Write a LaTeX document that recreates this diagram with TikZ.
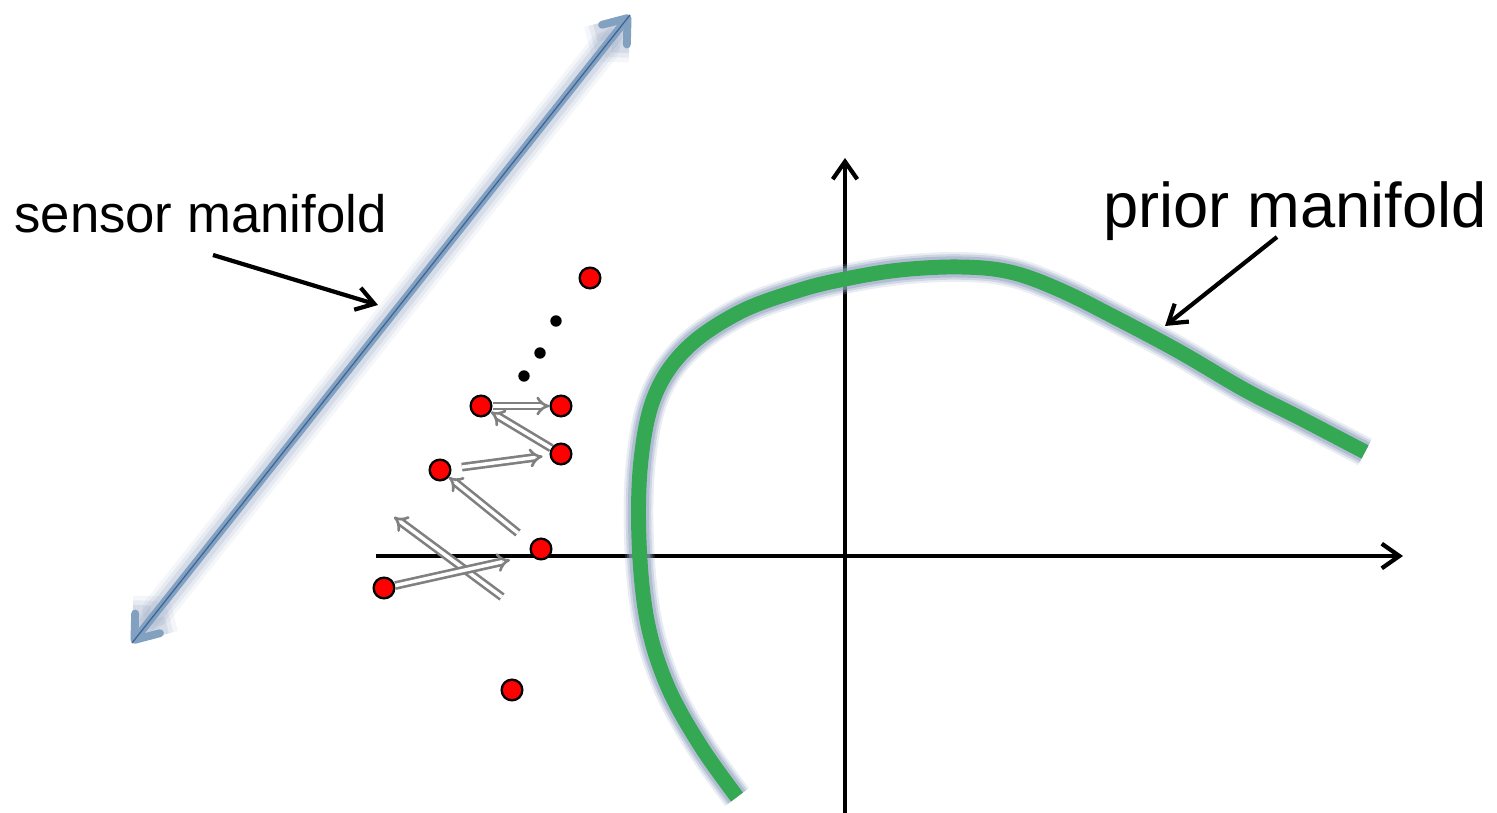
\documentclass[tikz,border=0pt]{standalone}
\usepackage{fontspec}
\setmainfont{Liberation Sans}
\usetikzlibrary{arrows.meta}
\definecolor{sblue}{RGB}{60,100,150}
\definecolor{lblue}{RGB}{130,160,192}
\definecolor{glowc}{RGB}{150,165,195}
\definecolor{pgreen}{RGB}{52,168,83}
\definecolor{garrow}{RGB}{128,128,128}
\tikzset{
  reddot/.style={circle,fill=red,draw=black,line width=1.3pt,minimum size=11.8pt,inner sep=0pt},
  blackdot/.style={circle,fill=black,minimum size=6.5pt,inner sep=0pt},
  axis/.style={line width=2.4pt,-{Straight Barb[length=10pt,width=14pt,line width=2.4pt]}},
  pointer/.style={line width=2.4pt,-{Straight Barb[length=10pt,width=13pt,line width=2.4pt]}},
  darrow/.style={draw=garrow,double=white,double distance=2pt,line width=1.5pt,-{Implies[length=11pt]}},
  lbl/.style={inner sep=0pt,anchor=base west}
}
\begin{document}
\begin{tikzpicture}[x=0.02cm,y=-0.02cm]
\useasboundingbox (0,0) rectangle (1497,813);
% sensor manifold
\coordinate (s1) at (132,643);
\coordinate (s2) at (630,15);
\foreach \w/\o in {18/0.10,14/0.15,10/0.22}{
  \draw[glowc,line width=\w pt,opacity=\o,line cap=round,{Straight Barb[length=12pt,width=18pt,line width=\w pt]}-{Straight Barb[length=12pt,width=18pt,line width=\w pt]}] (s1) -- (s2);
}
\draw[lblue,line width=4.5pt,line cap=round,{Straight Barb[length=12pt,width=18pt,line width=4.5pt,round]}-{Straight Barb[length=12pt,width=18pt,line width=4.5pt,round]}] (s1) -- (s2);
\draw[sblue,line width=0.7pt] (s1) -- (s2);
\node[lbl,font=\fontsize{30}{36}\selectfont] (sl) at (14,233) {sensor manifold};
\coordinate (sa1) at (213,255);
\coordinate (sa2) at (378,305);
\draw[pointer] (sa1) -- (sa2);
% axes
\coordinate (xa) at (376,556);
\coordinate (xb) at (1403,556);
\coordinate (ya) at (845,813);
\coordinate (yb) at (845,158);
\draw[axis] (xa) -- (xb);
\draw[axis] (ya) -- (yb);
% prior manifold
\def\curve{plot[smooth,tension=0.6] coordinates {(737,797) (700,745) (667,685) (647,620) (639,540) (641,460) (655,395) (687,348) (740,312) (800,290) (845,279) (900,270) (960,267) (1010,272) (1060,290) (1120,320) (1180,352) (1245,390) (1300,418) (1365,452)}}
\foreach \w/\o in {17/0.2,14.5/0.32,12/0.5}{
  \draw[glowc,line width=\w pt,opacity=\o] \curve;
}
\draw[pgreen,line width=8.5pt] \curve;
\node[lbl,font=\fontsize{36}{42}\selectfont] (pl) at (1103,228) {prior manifold};
\coordinate (pa1) at (1277,237);
\coordinate (pa2) at (1165,326);
\draw[pointer] (pa1) -- (pa2);
% dots
\node[reddot] (r1) at (590,278) {};
\node[blackdot] (b1) at (556,321) {};
\node[blackdot] (b2) at (540,353) {};
\node[blackdot] (b3) at (524,376) {};
\node[reddot] (r2) at (481,406) {};
\node[reddot] (r3) at (561,406) {};
\node[reddot] (r4) at (561,454) {};
\node[reddot] (r5) at (440,470) {};
\node[reddot] (r6) at (541,549) {};
\node[reddot] (r7) at (384,588) {};
\node[reddot] (r8) at (512,690) {};
% gray update arrows
\coordinate (g1t) at (518,533);
\coordinate (g2t) at (502,597);
\coordinate (g2h) at (394,517);
\coordinate (g3h) at (510,560);
\draw[darrow] (r2) -- (r3);
\draw[darrow] (r4) -- (r2);
\draw[darrow,shorten >=4pt,shorten <=6pt] (r5) -- (r4);
\draw[darrow] (g1t) -- (r5);
\draw[darrow] (g2t) -- (g2h);
\draw[darrow] (r7) -- (g3h);
\end{tikzpicture}
\end{document}
